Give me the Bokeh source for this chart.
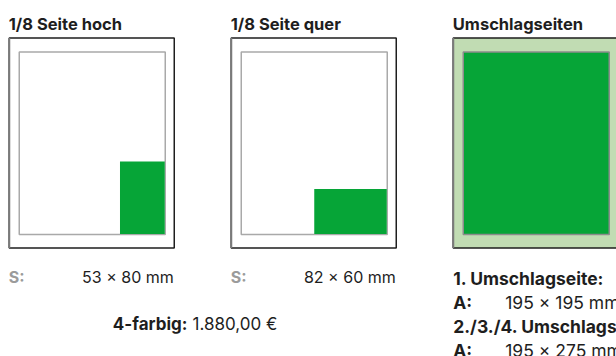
from bokeh.plotting import figure
from bokeh.models import Range1d
from bokeh.embed import file_html
from bokeh.resources import INLINE
from bokeh.core.properties import value

# ---- data ----
titles = ["1/8 Seite hoch", "1/8 Seite quer", "Umschlagseiten"]
ad_sizes = ["53 × 80 mm", "82 × 60 mm"]
ad_prefix = ["S:", "S:"]
# share of the type area covered by the ad (schematic width, height)
ad_width_share = [0.31, 0.50]
ad_height_share = [0.40, 0.25]
price_label = "4-farbig:"
price_value = "1.880,00 €"
cover_labels = ["1. Umschlagseite:", "2./3./4. Umschlagseiten:"]
cover_prefix = ["A:", "A:"]
cover_sizes = ["195 × 195 mm", "195 × 275 mm"]

# ---- layout ----
W, H = 616, 356
FONT = value("Inter")
GREEN = "#06a537"
LIGHT = "#c1dcb3"
DARK = "#1e1e1e"

p = figure(width=W, height=H, output_backend="svg", toolbar_location=None,
           x_range=Range1d(0, W), y_range=Range1d(H, 0),
           min_border=0, min_border_left=0, min_border_right=0,
           min_border_top=0, min_border_bottom=0)
p.axis.visible = False
p.grid.visible = False
p.outline_line_color = None
p.background_fill_color = "white"
p.border_fill_color = "white"

panel_x = [8.75, 230.75, 452.75]
outer_w = 165
outer_top, outer_bot = 37.5, 247.5
inner_l, inner_r = 10, 9
inner_top, inner_bot = 51.5, 234

for i, x0 in enumerate(panel_x):
    cover = (i == 2)
    p.quad(left=[x0], right=[x0 + outer_w], top=[outer_top], bottom=[outer_bot],
           fill_color=LIGHT if cover else "white", line_color=DARK, line_width=1.5)
    p.segment(x0=[x0], y0=[outer_top], x1=[x0], y1=[outer_bot],
              line_color="#7a7a7a", line_width=2)
    il, ir = x0 + inner_l, x0 + outer_w - inner_r
    if cover:
        p.quad(left=[il], right=[ir], top=[inner_top], bottom=[inner_bot],
               fill_color=GREEN, line_color="#8c8c8c", line_width=1.5)
    else:
        p.quad(left=[il], right=[ir], top=[inner_top], bottom=[inner_bot],
               fill_color="white", line_color="#a9a9a9", line_width=1.5)
        aw = ad_width_share[i] * (ir - il)
        ah = ad_height_share[i] * (inner_bot - inner_top)
        p.quad(left=[ir - aw], right=[ir - 0.5], top=[inner_bot - ah], bottom=[inner_bot - 0.5],
               fill_color=GREEN, line_color=None)
    p.text(x=[x0 - 0.5], y=[23], text=[titles[i]], text_font=FONT, text_font_style="bold",
           text_font_size="16.5px", text_color=DARK, text_baseline="alphabetic",
           text_align="left")

# size labels below the 1/8 panels
for i in range(2):
    x0 = panel_x[i]
    p.text(x=[x0 - 0.5], y=[276], text=[ad_prefix[i]], text_font=FONT, text_font_style="bold",
           text_font_size="16px", text_color="#9b9b9b", text_baseline="alphabetic",
           text_align="left")
    p.text(x=[x0 + outer_w - 0.5], y=[276], text=[ad_sizes[i]], text_font=FONT,
           text_font_size="16px", text_color=DARK, text_baseline="alphabetic",
           text_align="right")

# price
p.text(x=[187], y=[323.5], text=[price_label], text_font=FONT, text_font_style="bold",
       text_font_size="17px", text_color=DARK, text_baseline="alphabetic", text_align="right")
p.text(x=[192], y=[323.5], text=[price_value], text_font=FONT,
       text_font_size="17px", text_color=DARK, text_baseline="alphabetic", text_align="left")

# cover texts
cx = panel_x[2]
line_y = [278, 302, 326, 349.5]
for k in range(2):
    p.text(x=[cx], y=[line_y[2 * k]], text=[cover_labels[k]], text_font=FONT,
           text_font_style="bold", text_font_size="17.5px", text_color=DARK,
           text_baseline="alphabetic", text_align="left")
    p.text(x=[cx], y=[line_y[2 * k + 1]], text=[cover_prefix[k]], text_font=FONT,
           text_font_style="bold", text_font_size="17.5px", text_color=DARK,
           text_baseline="alphabetic", text_align="left")
    p.text(x=[cx + 52], y=[line_y[2 * k + 1]], text=[cover_sizes[k]], text_font=FONT,
           text_font_size="17.5px", text_color=DARK, text_baseline="alphabetic",
           text_align="left")

open("out.html", "w").write(file_html(p, INLINE))
